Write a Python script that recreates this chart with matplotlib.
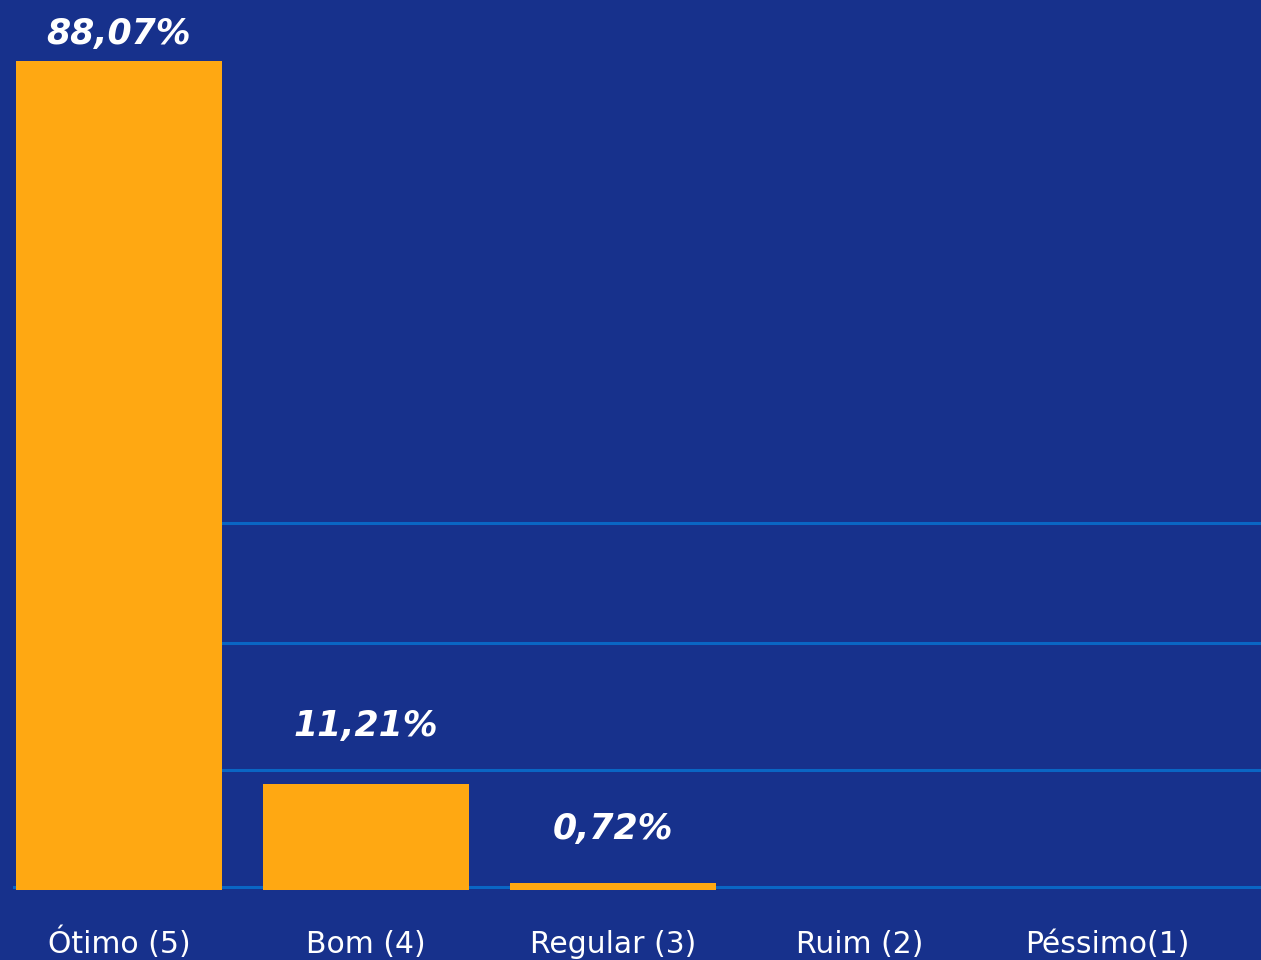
import matplotlib.pyplot as plt
import matplotlib.transforms as mtransforms

categorias = ['Ótimo (5)', 'Bom (4)', 'Regular (3)', 'Ruim (2)', 'Péssimo(1)']
percentuais = [88.07, 11.21, 0.72, 0.0, 0.0]
rotulos = ['88,07%', '11,21%', '0,72%', '', '']
linhas_grade = [0.3, 12.7, 26.2, 39.0]
# distância (pt) entre o topo da barra e o rótulo
deslocamentos = [12, 35, 32, 0, 0]

FUNDO = '#17318c'
BARRA = '#ffa812'
GRADE = '#0a66c4'
LARGURA = 0.834

fig = plt.figure(figsize=(12.61, 9.6), dpi=100, facecolor=FUNDO)
ax = fig.add_axes([13 / 1261, 70 / 960, 1 - 13 / 1261, 890 / 960])
ax.set_facecolor(FUNDO)

x = list(range(len(categorias)))
ax.bar(x, percentuais, width=LARGURA, color=BARRA, zorder=3)

for i, (v, txt, off) in enumerate(zip(percentuais, rotulos, deslocamentos)):
    if txt:
        ax.annotate(txt, (i, v), xytext=(0, off), textcoords='offset points',
                    ha='center', va='baseline', color='white', fontsize=25,
                    fontweight='bold', fontstyle='italic', family='DejaVu Sans')

ax.set_xlim(-0.429, 4.623)
ax.set_ylim(0, 94.5)

# linha de base ocupa toda a largura; as demais começam na primeira barra
ax.axhline(linhas_grade[0], color=GRADE, lw=2.2, zorder=1)
ax.hlines(linhas_grade[1:], -LARGURA / 2, 4.623, color=GRADE, lw=2.2, zorder=1)

trans = mtransforms.blended_transform_factory(ax.transData, ax.transAxes)
for i, cat in enumerate(categorias):
    ax.text(i, -63 / 890, cat, transform=trans, ha='center', va='baseline',
            color='white', fontsize=21.5, family='DejaVu Sans')

ax.set_xticks([])
ax.set_yticks([])
for s in ax.spines.values():
    s.set_visible(False)

fig.savefig('out.png', dpi=100, facecolor=FUNDO)
